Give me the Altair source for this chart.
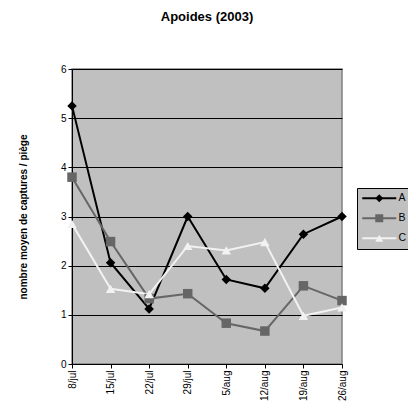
import altair as alt
import pandas as pd

dates = ["8/jul", "15/jul", "22/jul", "29/jul", "5/aug", "12/aug", "19/aug", "26/aug"]
series_names = ["A", "B", "C"]
A = [5.25, 2.06, 1.12, 3.00, 1.72, 1.54, 2.64, 3.00]
B = [3.80, 2.49, 1.33, 1.43, 0.83, 0.67, 1.59, 1.29]
C = [2.85, 1.53, 1.42, 2.40, 2.31, 2.48, 0.98, 1.15]
y_ticks = [0, 1, 2, 3, 4, 5, 6]

rows = []
for name, vals in zip(series_names, [A, B, C]):
    for d, v in zip(dates, vals):
        rows.append({"date": d, "serie": name, "serie_line": name, "value": v})
df = pd.DataFrame(rows)

FONT = "Liberation Sans"
colors = ["#000000", "#666666", "#f2f2f2"]
shapes = ["diamond", "square", "triangle-up"]

x_enc = alt.X(
    "date:N", sort=dates,
    scale=alt.Scale(type="point", padding=0),
    axis=alt.Axis(title=None, labelAngle=-90, labelFontSize=10, labelPadding=2,
                  tickSize=4, tickColor="#000", domainColor="#000", grid=False,
                  labelFont=FONT, labelColor="#000"),
)
y_enc = alt.Y(
    "value:Q",
    scale=alt.Scale(domain=[0, 6], nice=False),
    axis=alt.Axis(values=y_ticks, title="nombre moyen de captures / piège",
                  titleFont=FONT, titleFontSize=10, titleFontWeight="bold",
                  titleColor="#000", titlePadding=32,
                  labelFont=FONT, labelFontSize=10, labelColor="#000",
                  labelPadding=2, tickSize=4, tickColor="#000",
                  domainColor="#000", gridColor="#000", gridWidth=1,
                  gridOpacity=1),
)

common_legend = dict(
    title=None, orient="none", legendX=285, legendY=119,
    symbolSize=64, symbolStrokeWidth=2, labelOffset=26,
    labelFont=FONT, labelFontSize=10.5, rowPadding=9, padding=5,
)

lines = alt.Chart(df).mark_line(strokeWidth=2).encode(
    x=x_enc, y=y_enc,
    stroke=alt.Stroke(
        "serie_line:N", scale=alt.Scale(range=colors),
        legend=alt.Legend(
            symbolType="M-1.25,0H7.25",
            labelColor="#000", strokeColor="#000", fillColor="#c0c0c0",
            zindex=1, **common_legend,
        ),
    ),
)

marker_legend = alt.Legend(labelExpr="''", symbolOffset=12, zindex=2,
                           **common_legend)

points = alt.Chart(df).mark_point(filled=True, size=90, opacity=1).encode(
    x=x_enc, y=y_enc,
    color=alt.Color("serie:N", scale=alt.Scale(domain=series_names, range=colors),
                    legend=marker_legend),
    shape=alt.Shape("serie:N", scale=alt.Scale(domain=series_names, range=shapes),
                    legend=marker_legend),
)

chart = alt.layer(lines, points).properties(
    width=270, height=295,
    background="#ffffff",
    title=alt.Title("Apoides (2003)", font=FONT, fontSize=13, fontWeight="bold",
                    color="#000", offset=40, anchor="middle"),
    autosize=alt.AutoSizeParams(type="none"),
    padding={"left": 64, "top": 61, "right": 66, "bottom": 42},
).configure_view(
    fill="#c0c0c0", stroke="#808080", strokeWidth=1.5
)

chart.save("out.html", embed_options={"renderer": "svg", "actions": False})
